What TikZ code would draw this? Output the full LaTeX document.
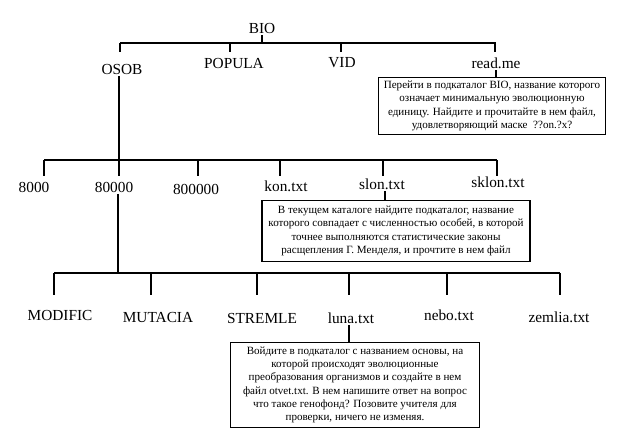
\documentclass[tikz,border=0pt]{standalone}
\usepackage{fontspec}
\setmainfont{Liberation Serif}
\usetikzlibrary{positioning}

\begin{document}
\begin{tikzpicture}[
  x=0.75pt,y=-0.75pt,
  lbl/.style={font=\rmfamily\fontsize{11.5}{13}\selectfont,inner sep=1pt},
  note/.style={draw,line width=0.8pt,align=center,inner sep=0pt,
               font=\rmfamily\fontsize{8.3}{10}\selectfont},
  ln/.style={line width=0.8pt},
]
  \useasboundingbox (0,0) rectangle (625,446);

  % level 1
  \node[lbl] (bio)    at (262,28) {BIO};
  \node[lbl] (osob)   at (122,69) {OSOB};
  \node[lbl] (popula) at (234,63) {POPULA};
  \node[lbl] (vid)    at (342,63) {VID};
  \node[lbl] (readme) at (496,63) {read.me};
  \node[note,minimum width=170pt,minimum height=43pt] (msg1) at (492,106)
    {Перейти в подкаталог BIO, название которого\\
     означает минимальную эволюционную\\
     единицу. Найдите и прочитайте в нем файл,\\
     удовлетворяющий маске \ ??on.?x?};

  \coordinate (b1w) at (120,43);
  \coordinate (b1e) at (496,43);
  \draw[ln] (b1w) -- (b1e);
  \draw[ln] (bio.south) -- (bio.south |- b1w);
  \foreach \x in {120,230,341,495} \draw[ln] (\x,43) -- ++(0,9);
  \draw[ln] (readme.south) -- (readme.south |- msg1.north);

  % level 2
  \node[lbl] (n8000)   at (34,187)  {8000};
  \node[lbl] (n80000)  at (114,187) {80000};
  \node[lbl] (n800000) at (196,189) {800000};
  \node[lbl] (kon)     at (286,186) {kon.txt};
  \node[lbl] (slon)    at (382,184) {slon.txt};
  \node[lbl] (sklon)   at (498,182) {sklon.txt};
  \node[note,minimum width=201pt,minimum height=46pt] (msg2) at (396,231)
    {В текущем каталоге найдите подкаталог, название\\
     которого совпадает с численностью особей, в которой\\
     точнее выполняются статистические законы\\
     расщепления Г. Менделя, и прочтите в нем файл};

  \coordinate (b2w) at (44,160);
  \coordinate (b2e) at (497,160);
  \draw[ln] (b2w) -- (b2e);
  \draw[ln] (osob.south -| 119,0) -- (119,176);
  \foreach \x in {44,198,280,383,497} \draw[ln] (\x,160) -- ++(0,16);
  \draw[ln] (slon.south -| 385,0) -- (385,0 |- msg2.north);

  % level 3
  \node[lbl] (modific) at (60,315)  {MODIFIC};
  \node[lbl] (mutacia) at (158,317) {MUTACIA};
  \node[lbl] (stremle) at (262,318) {STREMLE};
  \node[lbl] (luna)    at (351,318) {luna.txt};
  \node[lbl] (nebo)    at (449,315) {nebo.txt};
  \node[lbl] (zemlia)  at (559,317) {zemlia.txt};
  \node[note,minimum width=187pt,minimum height=64pt] (msg3) at (355,385)
    {Войдите в подкаталог с названием основы, на\\
     которой происходят эволюционные\\
     преобразования организмов и создайте в нем\\
     файл otvet.txt. В нем напишите ответ на вопрос\\
     что такое генофонд? Позовите учителя для\\
     проверки, ничего не изменяя.};

  \coordinate (b3w) at (54,273);
  \coordinate (b3e) at (560,273);
  \draw[ln] (b3w) -- (b3e);
  \draw[ln] (n80000.south -| 118,0) -- (118,273);
  \foreach \x in {54,151,257,349,447,560} \draw[ln] (\x,273) -- ++(0,22);
  \draw[ln] (luna.south -| 349,0) -- (349,0 |- msg3.north);
\end{tikzpicture}
\end{document}
